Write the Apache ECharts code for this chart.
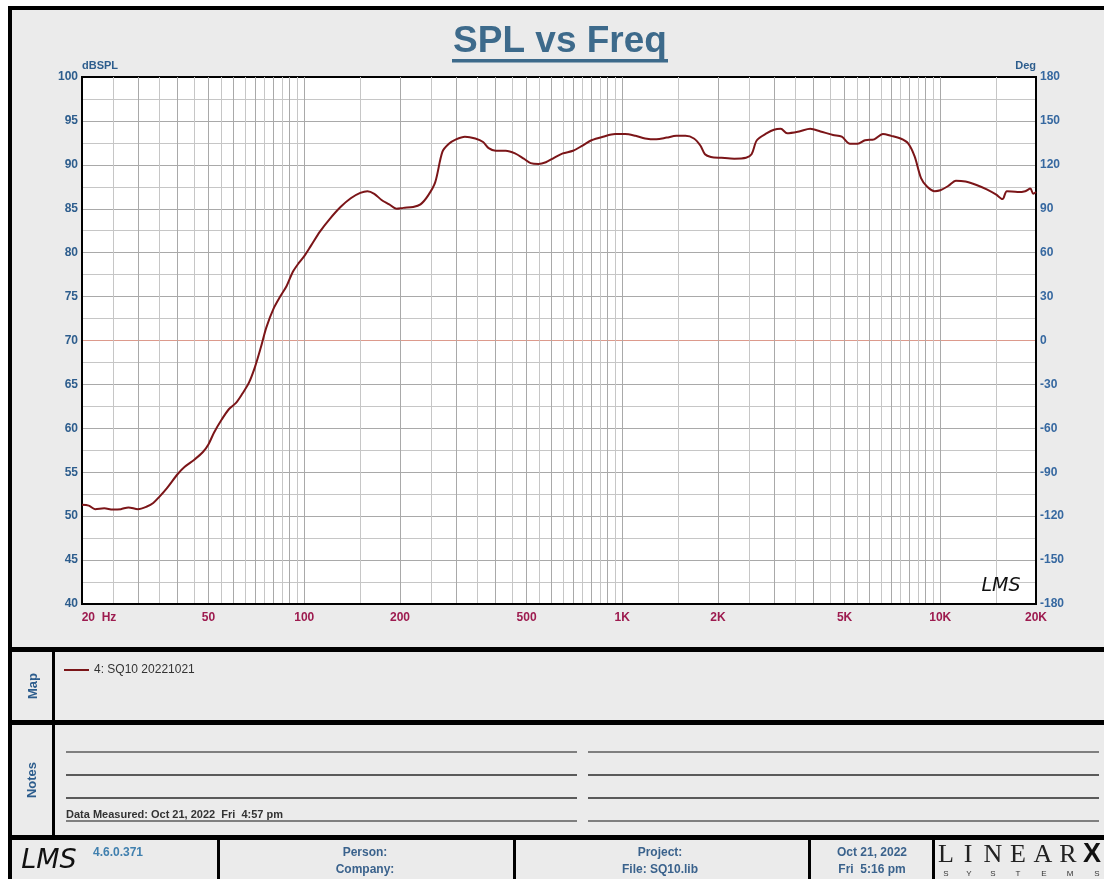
<!DOCTYPE html>
<html>
<head>
<meta charset="utf-8">
<title>SPL vs Freq</title>
<script src="https://cdn.jsdelivr.net/npm/echarts@6.0.0/dist/echarts.min.js"></script>
<style>
html, body { margin: 0; padding: 0; background: #fff; }
#main { width: 1104px; height: 879px; }
</style>
</head>
<body>
<div id="main"></div>
<script>
// measured response, Hz / dBSPL
var freqs = [20, 21, 22, 23.5, 25, 26.5, 28, 30, 32, 33.5, 35, 37, 40, 42, 45, 48, 50, 52, 55, 58,
    61, 64, 67, 70, 73, 76, 80, 84, 88, 92, 96, 100, 105, 112, 120, 130, 140, 150, 158, 166,
    175, 185, 195, 205, 220, 232, 245, 258, 272, 285, 300, 320, 345, 365, 380, 400, 430, 460, 490, 515,
    545, 575, 610, 650, 700, 750, 800, 870, 950, 1020, 1100, 1180, 1280, 1380, 1480, 1580, 1680, 1760, 1820, 1900,
    2050, 2250, 2450, 2550, 2650, 2850, 3000, 3150, 3300, 3600, 3900, 4200, 4600, 4900, 5200, 5500, 5800, 6200, 6600, 7000,
    7500, 7900, 8300, 8700, 9100, 9600, 10000, 10600, 11200, 12000, 13000, 14000, 15000, 15700, 16200, 17500, 18500, 19200, 19600, 20000];
var spl = [51.3, 51.2, 50.8, 50.9, 50.75, 50.8, 51.0, 50.8, 51.1, 51.5, 52.2, 53.2, 54.8, 55.6, 56.4, 57.3, 58.2, 59.5, 61.0, 62.2,
    62.9, 64.0, 65.2, 67.0, 69.2, 71.5, 73.6, 75.0, 76.2, 77.8, 78.8, 79.6, 80.8, 82.4, 83.8, 85.2, 86.2, 86.8, 87.0, 86.7,
    86.0, 85.5, 85.0, 85.1, 85.2, 85.5, 86.5, 88.0, 91.5, 92.4, 92.9, 93.2, 93.0, 92.6, 91.9, 91.6, 91.6, 91.3, 90.7, 90.2,
    90.1, 90.3, 90.8, 91.3, 91.6, 92.2, 92.8, 93.2, 93.5, 93.5, 93.3, 93.0, 92.9, 93.1, 93.3, 93.3, 93.0, 92.2, 91.2, 90.9,
    90.8, 90.7, 90.8, 91.2, 92.8, 93.6, 94.0, 94.1, 93.6, 93.8, 94.1, 93.8, 93.4, 93.2, 92.4, 92.4, 92.8, 92.9, 93.5, 93.3,
    93.0, 92.5, 91.0, 88.5, 87.5, 87.0, 87.1, 87.6, 88.2, 88.1, 87.7, 87.2, 86.6, 86.1, 87.0, 86.9, 87.0, 87.3, 86.7, 86.9];
var seriesName = '4: SQ10 20221021';

var labelFreqs = [20, 50, 100, 200, 500, 1000, 2000, 5000, 10000, 20000];
var labelTexts = ['20  Hz', '50', '100', '200', '500', '1K', '2K', '5K', '10K', '20K'];
var majorFreqs = [30, 40, 50, 60, 70, 80, 90, 100, 200, 300, 400, 500, 600, 700, 800, 900,
    1000, 2000, 3000, 4000, 5000, 6000, 7000, 8000, 9000, 10000];
var halfFreqs = [25, 35, 45, 55, 65, 75, 85, 95, 150, 250, 350, 450, 550, 650, 750, 850, 950,
    1500, 2500, 3500, 4500, 5500, 6500, 7500, 8500, 9500, 15000];
var phaseRef = [0]; // 0 deg reference line

var blue = '#2d5d8d';
var red = '#9d1b4f';
var font = '"Liberation Sans", Arial, sans-serif';

function lg(v) { return Math.log10(v); }

var chart = echarts.init(document.getElementById('main'));

var graphics = [
    // frame + panels
    { type: 'rect', z: -10, shape: { x: 10, y: 8, width: 1110, height: 900 }, style: { fill: '#ebebeb', stroke: '#000', lineWidth: 4 } },
    { type: 'rect', shape: { x: 10, y: 647, width: 1100, height: 5 }, style: { fill: '#000' } },
    { type: 'rect', shape: { x: 10, y: 720, width: 1100, height: 5 }, style: { fill: '#000' } },
    { type: 'rect', shape: { x: 10, y: 835, width: 1100, height: 5 }, style: { fill: '#000' } },
    { type: 'rect', shape: { x: 52, y: 652, width: 3, height: 183 }, style: { fill: '#000' } },
    { type: 'rect', shape: { x: 217, y: 840, width: 3, height: 40 }, style: { fill: '#000' } },
    { type: 'rect', shape: { x: 513, y: 840, width: 3, height: 40 }, style: { fill: '#000' } },
    { type: 'rect', shape: { x: 808, y: 840, width: 3, height: 40 }, style: { fill: '#000' } },
    { type: 'rect', shape: { x: 932, y: 840, width: 3, height: 40 }, style: { fill: '#000' } },

    // title
    { type: 'text', x: 560, y: 42, style: { text: 'SPL vs Freq', font: 'bold 37px ' + font, fill: '#3d6a8b', textAlign: 'center', textVerticalAlign: 'middle' } },
    { type: 'rect', shape: { x: 452, y: 59, width: 216, height: 3.5 }, style: { fill: '#3d6a8b' } },

    // lms mark in plot
    { type: 'text', x: 1001, y: 586, z: 10, style: { text: 'LMS', font: 'italic 19px "DejaVu Sans", sans-serif', fill: '#111', textAlign: 'center', textVerticalAlign: 'middle' } },

    // side labels
    { type: 'text', x: 33, y: 686, rotation: Math.PI / 2, style: { text: 'Map', font: 'bold 13px ' + font, fill: blue, textAlign: 'center', textVerticalAlign: 'middle' } },
    { type: 'text', x: 32, y: 780, rotation: Math.PI / 2, style: { text: 'Notes', font: 'bold 13px ' + font, fill: blue, textAlign: 'center', textVerticalAlign: 'middle' } },

    // notes lines
    { type: 'line', shape: { x1: 66, y1: 752, x2: 577, y2: 752 }, style: { stroke: '#7f7f7f', lineWidth: 2 } },
    { type: 'line', shape: { x1: 66, y1: 775, x2: 577, y2: 775 }, style: { stroke: '#2a2a2a', lineWidth: 1.5 } },
    { type: 'line', shape: { x1: 66, y1: 798, x2: 577, y2: 798 }, style: { stroke: '#2a2a2a', lineWidth: 1.5 } },
    { type: 'line', shape: { x1: 66, y1: 821, x2: 577, y2: 821 }, style: { stroke: '#7f7f7f', lineWidth: 2 } },
    { type: 'line', shape: { x1: 588, y1: 752, x2: 1099, y2: 752 }, style: { stroke: '#7f7f7f', lineWidth: 2 } },
    { type: 'line', shape: { x1: 588, y1: 775, x2: 1099, y2: 775 }, style: { stroke: '#2a2a2a', lineWidth: 1.5 } },
    { type: 'line', shape: { x1: 588, y1: 798, x2: 1099, y2: 798 }, style: { stroke: '#2a2a2a', lineWidth: 1.5 } },
    { type: 'line', shape: { x1: 588, y1: 821, x2: 1099, y2: 821 }, style: { stroke: '#7f7f7f', lineWidth: 2 } },
    { type: 'text', x: 66, y: 815, style: { text: 'Data Measured: Oct 21, 2022  Fri  4:57 pm', font: 'bold 11px "Liberation Sans Narrow", ' + font, fill: '#333', textVerticalAlign: 'middle' } },

    // footer
    { type: 'text', x: 49, y: 861, style: { text: 'LMS', font: 'italic 27px "DejaVu Sans", sans-serif', fill: '#111', textAlign: 'center', textVerticalAlign: 'middle' } },
    { type: 'text', x: 93, y: 853, style: { text: '4.6.0.371', font: 'bold 12px ' + font, fill: '#3f7fae', textVerticalAlign: 'middle' } },
    { type: 'text', x: 365, y: 853, style: { text: 'Person:', font: 'bold 12px ' + font, fill: '#3a628c', textAlign: 'center', textVerticalAlign: 'middle' } },
    { type: 'text', x: 365, y: 870, style: { text: 'Company:', font: 'bold 12px ' + font, fill: '#3a628c', textAlign: 'center', textVerticalAlign: 'middle' } },
    { type: 'text', x: 660, y: 853, style: { text: 'Project:', font: 'bold 12px ' + font, fill: '#3a628c', textAlign: 'center', textVerticalAlign: 'middle' } },
    { type: 'text', x: 660, y: 870, style: { text: 'File: SQ10.lib', font: 'bold 12px ' + font, fill: '#3a628c', textAlign: 'center', textVerticalAlign: 'middle' } },
    { type: 'text', x: 872, y: 853, style: { text: 'Oct 21, 2022', font: 'bold 12px ' + font, fill: '#3a628c', textAlign: 'center', textVerticalAlign: 'middle' } },
    { type: 'text', x: 872, y: 870, style: { text: 'Fri  5:16 pm', font: 'bold 12px ' + font, fill: '#3a628c', textAlign: 'center', textVerticalAlign: 'middle' } }
];

// LINEAR X logo, letter by letter
var logoTop = ['L', 'I', 'N', 'E', 'A', 'R'];
var logoTopX = [946, 968, 993, 1018, 1043, 1068];
logoTop.forEach(function (ch, i) {
    graphics.push({ type: 'text', x: logoTopX[i], y: 855, style: { text: ch, font: '26px "Liberation Serif", serif', fill: '#222', textAlign: 'center', textVerticalAlign: 'middle' } });
});
graphics.push({ type: 'text', x: 1092, y: 855, style: { text: 'X', font: 'bold 27px ' + font, fill: '#111', textAlign: 'center', textVerticalAlign: 'middle' } });
var logoBottom = ['S', 'Y', 'S', 'T', 'E', 'M', 'S'];
var logoBottomX = [946, 969, 993, 1018, 1044, 1070, 1097];
logoBottom.forEach(function (ch, i) {
    graphics.push({ type: 'text', x: logoBottomX[i], y: 874, style: { text: ch, font: '8px ' + font, fill: '#333', textAlign: 'center', textVerticalAlign: 'middle' } });
});

var option = {
    animation: false,
    backgroundColor: '#fff',
    legend: {
        left: 64, top: 664, padding: 0,
        icon: 'rect', itemWidth: 25, itemHeight: 2, itemGap: 5,
        data: [seriesName],
        textStyle: { color: '#333', fontSize: 12, fontFamily: font }
    },
    grid: {
        left: 82, top: 77, width: 954, height: 527,
        show: true, backgroundColor: '#fff', borderColor: '#000', borderWidth: 2
    },
    xAxis: [{
        type: 'value',
        min: lg(20), max: lg(20000),
        axisLine: { show: true, onZero: false, lineStyle: { color: '#000', width: 2 } },
        axisTick: { show: false, customValues: majorFreqs.map(lg) },
        splitLine: { show: true, lineStyle: { color: '#a9a9a9', width: 1 } },
        axisLabel: {
            customValues: labelFreqs.map(lg),
            margin: 8,
            color: red, fontWeight: 'bold', fontSize: 12, fontFamily: font,
            formatter: function (v) {
                for (var i = 0; i < labelFreqs.length; i++) {
                    if (Math.abs(lg(labelFreqs[i]) - v) < 1e-6) {
                        return i === 0 ? '{first|' + labelTexts[i] + '}' : labelTexts[i];
                    }
                }
                return '';
            },
            rich: {
                first: { padding: [0, 0, 0, 34], color: red, fontWeight: 'bold', fontSize: 12, fontFamily: font }
            }
        }
    }, {
        type: 'value',
        position: 'top',
        min: lg(20), max: lg(20000),
        axisLine: { show: false, onZero: false },
        axisTick: { show: false, customValues: halfFreqs.map(lg) },
        axisLabel: { show: false },
        splitLine: { show: true, lineStyle: { color: '#c6c6c6', width: 1 } }
    }],
    yAxis: [{
        type: 'value',
        min: 40, max: 100, interval: 5,
        name: 'dBSPL', nameLocation: 'end', nameGap: 5,
        nameTextStyle: { color: blue, fontWeight: 'bold', fontSize: 11, fontFamily: font, align: 'left' },
        axisLine: { show: true, onZero: false, lineStyle: { color: '#000', width: 2 } },
        axisTick: { show: false },
        axisLabel: { margin: 4, color: blue, fontWeight: 'bold', fontSize: 12, fontFamily: font },
        splitLine: { show: true, showMinLine: false, showMaxLine: false, lineStyle: { color: '#a9a9a9', width: 1 } },
        minorTick: { show: false, splitNumber: 2 },
        minorSplitLine: { show: true, lineStyle: { color: '#c6c6c6', width: 1 } }
    }, {
        type: 'value',
        position: 'right',
        min: -180, max: 180, interval: 30,
        name: 'Deg', nameLocation: 'end', nameGap: 5,
        nameTextStyle: { color: blue, fontWeight: 'bold', fontSize: 11, fontFamily: font, align: 'right' },
        axisLine: { show: true, onZero: false, lineStyle: { color: '#000', width: 2 } },
        axisTick: { show: false, customValues: phaseRef },
        axisLabel: { margin: 4, color: '#3668a0', fontWeight: 'bold', fontSize: 12, fontFamily: font },
        splitLine: { show: true, lineStyle: { color: '#dc9a8c', width: 1 } }
    }],
    series: [{
        name: seriesName,
        type: 'line',
        xAxisIndex: 0, yAxisIndex: 0,
        data: freqs.map(function (f, i) { return [lg(f), spl[i]]; }),
        symbol: 'none',
        smooth: 0.3,
        lineStyle: { color: '#7b1518', width: 2 },
        itemStyle: { color: '#7b1518' },
        z: 5
    }],
    graphic: graphics
};
chart.setOption(option);
</script>
</body>
</html>
